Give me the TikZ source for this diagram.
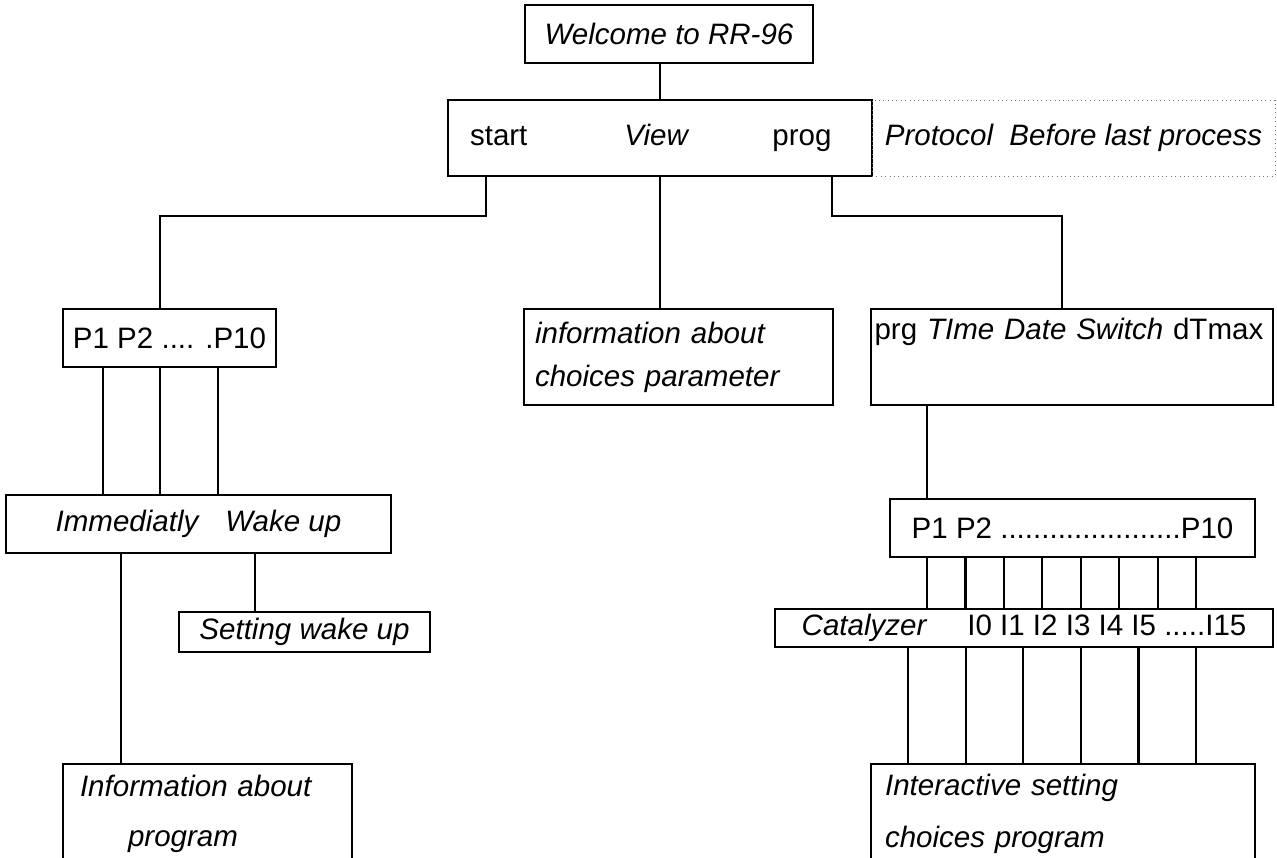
\documentclass[tikz,border=0pt]{standalone}
\usepackage{fontspec}
\setmainfont{Liberation Sans}
\usepackage{tikz}
\usetikzlibrary{calc}

\begin{document}
\begin{tikzpicture}[
    x=0.02cm, y=-0.02cm,
    font=\fontsize{16.8}{24.5}\selectfont,
    box/.style={
        draw, line width=1.1pt, inner sep=0pt
    },
    note/.style={
        draw=black!55, dotted, line width=0.5pt, inner sep=0pt
    },
    wire/.style={line width=1.2pt}
]
\path[use as bounding box, clip] (0,0) rectangle (1277,858);

% Top
\node[box, minimum width=5.76cm, minimum height=1.16cm] (welcome) at (669,34) {\textit{Welcome to RR-96}};
\node[box, minimum width=8.48cm, minimum height=1.52cm, text width=7.6cm, inner xsep=0.44cm, align=left] (main) at (660,138)
    {start\hspace{1.94cm}\textit{View}\hspace{1.66cm}prog};
\node[note, minimum width=8.06cm, minimum height=1.52cm] (proto) at (1073.5,138) {\textit{Protocol\ \ Before last process}};

% Second row
\node[box, minimum width=4.26cm, minimum height=1.16cm] (pleft) at (169.5,338) {P1 P2 .... .P10};
\node[box, minimum height=1.92cm, text width=5.74cm, inner xsep=0.22cm, align=left] (info) at (678.5,357)
    {\textit{information about}\\\textit{choices parameter}};
\node[box, minimum height=1.92cm, text width=7.9cm, inner xsep=0.07cm, align=left] (prgbox) at (1072,357)
    {\mbox{prg \textit{TIme Date Switch} dTmax}\\\strut};

% Left branch
\node[box, minimum width=7.7cm, minimum height=1.16cm] (immed) at (198.5,524) {\textit{Immediatly\hspace{0.54cm}Wake up}};
\node[box, minimum width=5.02cm, minimum height=0.8cm] (wakeset) at (304.5,632) {\textit{Setting wake up}};
\node[box, minimum height=2cm, text width=5.1cm, inner xsep=0.34cm, align=left] (infoprog) at (207.5,814)
    {\textit{Information about}\\[4pt]\hspace*{0.96cm}\textit{program}};

% Right branch
\node[box, minimum width=7.3cm, minimum height=1.16cm] (pright) at (1072.5,528) {P1 P2 ......................P10};
\node[box, minimum width=9.96cm, minimum height=0.76cm] (catal) at (1024,628)
    {\textit{Catalyzer}\hspace{0.8cm}I0 I1 I2 I3 I4 I5 .....I15};
\node[box, minimum height=2cm, text width=7.12cm, inner xsep=0.28cm, align=left] (interact) at (1063,814)
    {\textit{Interactive setting}\\[5pt]\textit{choices program}};

% Connectors
\draw[wire] (welcome.south -| main.north) -- (main.north);
\draw[wire] ($(main.south west)+(39,0)$) -- ++(0,39) -| ($(pleft.north)+(-9.5,0)$);
\draw[wire] (main.south) -- (main.south |- info.north);
\draw[wire] ($(main.south west)+(385,0)$) -- ++(0,39) -| ($(prgbox.north)+(-10,0)$);

\foreach \dx in {-66.5,-9.5,48.5}
    \draw[wire] ($(pleft.south)+(\dx,0)$) coordinate (t) -- (t |- immed.north);
\draw[wire] ($(immed.south west)+(116,0)$) coordinate (t) -- (t |- infoprog.north);
\draw[wire] ($(immed.south west)+(250,0)$) coordinate (t) -- (t |- wakeset.north);

\draw[wire] ($(prgbox.south west)+(57,0)$) coordinate (t) -- (t |- pright.north);
\foreach \i in {0,...,7}
    \draw[wire] ($(pright.south west)+(38+38.43*\i,0)$) coordinate (t) -- (t |- catal.north);
\foreach \i in {0,...,5}
    \draw[wire] ($(catal.south west)+(134+57.6*\i,0)$) coordinate (t) -- (t |- interact.north);

\end{tikzpicture}
\end{document}
